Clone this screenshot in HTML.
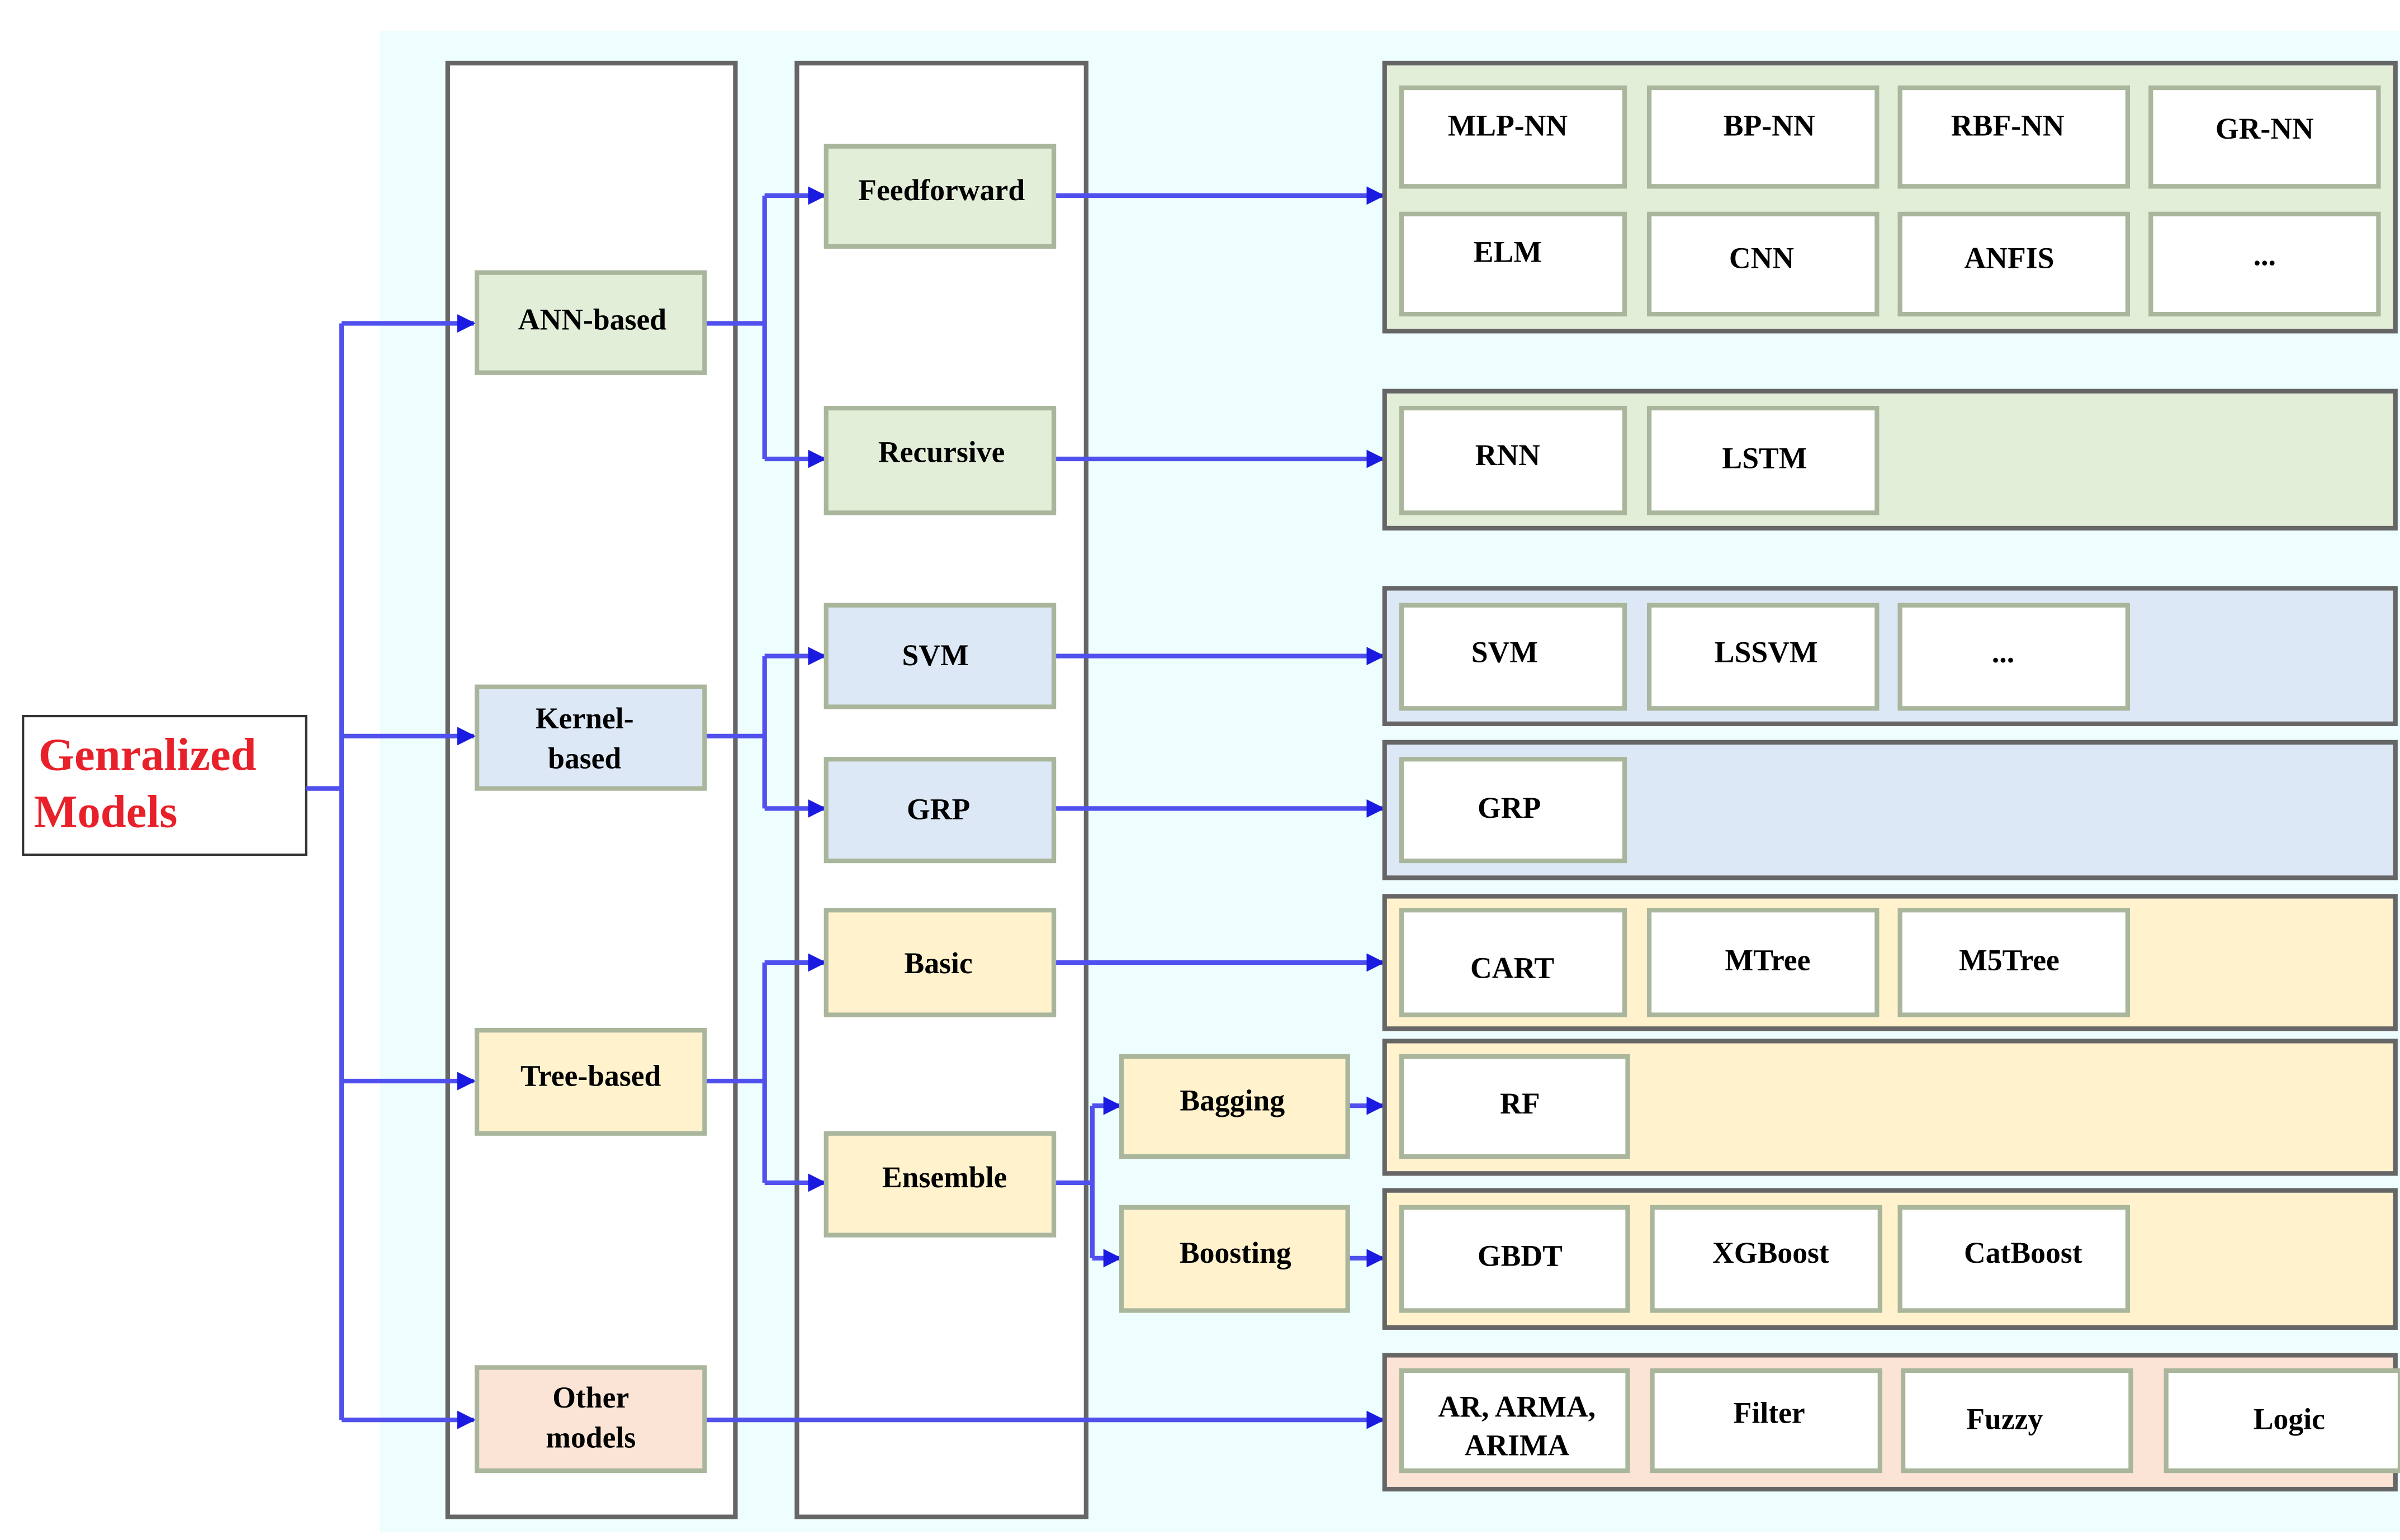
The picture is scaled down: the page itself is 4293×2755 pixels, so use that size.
<!DOCTYPE html>
<html><head><meta charset="utf-8"><style>html,body{margin:0;padding:0;background:#fff}svg{display:block}</style></head>
<body>
<svg width="4293" height="2755" viewBox="0 0 1560 1000" preserveAspectRatio="none" xmlns="http://www.w3.org/2000/svg" font-family="Liberation Serif, serif" font-weight="bold" font-size="19.5" text-anchor="middle">
<defs>
<marker id="a" viewBox="0 0 10 10" refX="9" refY="5" markerWidth="12" markerHeight="14" orient="auto" markerUnits="userSpaceOnUse"><path d="M0,0L10,5L0,10z" fill="#1a1ae0"/></marker>
</defs>
<rect x="0" y="0" width="1560" height="1000" fill="#fff"/>
<rect x="247" y="20" width="1313" height="975" fill="#eefdfd"/>
<rect x="291" y="41" width="187" height="944" fill="#fff" stroke="#666" stroke-width="3"/>
<rect x="518" y="41" width="188" height="944" fill="#fff" stroke="#666" stroke-width="3"/>
<rect x="15" y="465" width="184" height="90" fill="#fff" stroke="#333" stroke-width="1.5"/>
<text x="25" y="500" text-anchor="start" fill="#e8202a" font-size="30">Genralized</text>
<text x="22" y="537" text-anchor="start" fill="#e8202a" font-size="30">Models</text>

<g fill="none" stroke="#5050ee" stroke-width="3">
<path d="M199,512H222M222,210V922"/>
<path d="M222,210H308" marker-end="url(#a)"/><path d="M222,478H308" marker-end="url(#a)"/>
<path d="M222,702H308" marker-end="url(#a)"/><path d="M222,922H308" marker-end="url(#a)"/>
<path d="M458,210H497M497,127V298"/><path d="M497,127H536" marker-end="url(#a)"/><path d="M497,298H536" marker-end="url(#a)"/>
<path d="M458,478H497M497,426V525"/><path d="M497,426H536" marker-end="url(#a)"/><path d="M497,525H536" marker-end="url(#a)"/>
<path d="M458,702H497M497,625V768"/><path d="M497,625H536" marker-end="url(#a)"/><path d="M497,768H536" marker-end="url(#a)"/>
<path d="M458,922H899" marker-end="url(#a)"/>
<path d="M685,127H899" marker-end="url(#a)"/><path d="M685,298H899" marker-end="url(#a)"/>
<path d="M685,426H899" marker-end="url(#a)"/><path d="M685,525H899" marker-end="url(#a)"/>
<path d="M685,625H899" marker-end="url(#a)"/>
<path d="M685,768H710M710,718V817"/><path d="M710,718H728" marker-end="url(#a)"/><path d="M710,817H728" marker-end="url(#a)"/>
<path d="M876,718H899" marker-end="url(#a)"/><path d="M876,817H899" marker-end="url(#a)"/>
</g>

<g stroke="#a9b69c" stroke-width="3">
<rect x="310" y="177" width="148" height="65" fill="#e3eed9"/>
<rect x="310" y="446" width="148" height="66" fill="#dce8f5"/>
<rect x="310" y="669" width="148" height="67" fill="#fff2cc"/>
<rect x="310" y="888" width="148" height="67" fill="#fbe3d6"/>
<rect x="537" y="95" width="148" height="65" fill="#e3eed9"/>
<rect x="537" y="265" width="148" height="68" fill="#e3eed9"/>
<rect x="537" y="393" width="148" height="66" fill="#dce8f5"/>
<rect x="537" y="493" width="148" height="66" fill="#dce8f5"/>
<rect x="537" y="591" width="148" height="68" fill="#fff2cc"/>
<rect x="537" y="736" width="148" height="66" fill="#fff2cc"/>
<rect x="729" y="686" width="147" height="65" fill="#fff2cc"/>
<rect x="729" y="784" width="147" height="67" fill="#fff2cc"/>
</g>
<g>
<text x="385" y="214">ANN-based</text>
<text x="380" y="473">Kernel-</text><text x="380" y="499">based</text>
<text x="384" y="705">Tree-based</text>
<text x="384" y="914">Other</text><text x="384" y="940">models</text>
<text x="612" y="130">Feedforward</text>
<text x="612" y="300">Recursive</text>
<text x="608" y="432">SVM</text>
<text x="610" y="532">GRP</text>
<text x="610" y="632">Basic</text>
<text x="614" y="771">Ensemble</text>
<text x="801" y="721">Bagging</text>
<text x="803" y="820">Boosting</text>
</g>

<g stroke="#666" stroke-width="3">
<rect x="900" y="41" width="657" height="174" fill="#e3eed9"/>
<rect x="900" y="254" width="657" height="89" fill="#e3eed9"/>
<rect x="900" y="382" width="657" height="88" fill="#dce8f5"/>
<rect x="900" y="482" width="657" height="88" fill="#dce8f5"/>
<rect x="900" y="582" width="657" height="86" fill="#fff2cc"/>
<rect x="900" y="676" width="657" height="86" fill="#fff2cc"/>
<rect x="900" y="773" width="657" height="89" fill="#fff2cc"/>
<rect x="900" y="880" width="657" height="87" fill="#fbe3d6"/>
</g>
<g fill="#fff" stroke="#a9b69c" stroke-width="3">
<rect x="911" y="57" width="145" height="64"/><rect x="1072" y="57" width="148" height="64"/><rect x="1235" y="57" width="148" height="64"/><rect x="1398" y="57" width="148" height="64"/>
<rect x="911" y="139" width="145" height="65"/><rect x="1072" y="139" width="148" height="65"/><rect x="1235" y="139" width="148" height="65"/><rect x="1398" y="139" width="148" height="65"/>
<rect x="911" y="265" width="145" height="68"/><rect x="1072" y="265" width="148" height="68"/>
<rect x="911" y="393" width="145" height="67"/><rect x="1072" y="393" width="148" height="67"/><rect x="1235" y="393" width="148" height="67"/>
<rect x="911" y="493" width="145" height="66"/>
<rect x="911" y="591" width="145" height="68"/><rect x="1072" y="591" width="148" height="68"/><rect x="1235" y="591" width="148" height="68"/>
<rect x="911" y="686" width="147" height="65"/>
<rect x="911" y="784" width="147" height="67"/><rect x="1074" y="784" width="148" height="67"/><rect x="1235" y="784" width="148" height="67"/>
<rect x="911" y="890" width="147" height="65"/><rect x="1074" y="890" width="148" height="65"/><rect x="1237" y="890" width="148" height="65"/><rect x="1408" y="890" width="152" height="65"/>
</g>
<g>
<text x="980" y="88">MLP-NN</text><text x="1150" y="88">BP-NN</text><text x="1305" y="88">RBF-NN</text><text x="1472" y="90">GR-NN</text>
<text x="980" y="170">ELM</text><text x="1145" y="174">CNN</text><text x="1306" y="174">ANFIS</text><text x="1472" y="172">...</text>
<text x="980" y="302">RNN</text><text x="1147" y="304">LSTM</text>
<text x="978" y="430">SVM</text><text x="1148" y="430">LSSVM</text><text x="1302" y="430">...</text>
<text x="981" y="531">GRP</text>
<text x="983" y="635">CART</text><text x="1149" y="630">MTree</text><text x="1306" y="630">M5Tree</text>
<text x="988" y="723">RF</text>
<text x="988" y="822">GBDT</text><text x="1151" y="820">XGBoost</text><text x="1315" y="820">CatBoost</text>
<text x="986" y="920">AR, ARMA,</text><text x="986" y="945">ARIMA</text>
<text x="1150" y="924">Filter</text><text x="1303" y="928">Fuzzy</text><text x="1488" y="928">Logic</text>
</g>
</svg>
</body></html>
